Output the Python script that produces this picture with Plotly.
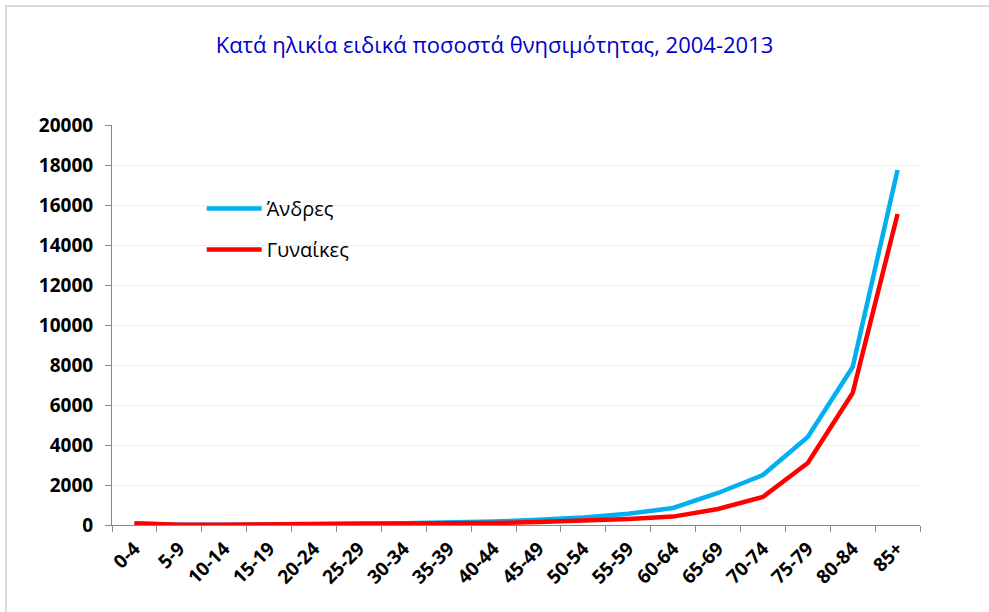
import plotly.graph_objects as go

categories = ["0-4", "5-9", "10-14", "15-19", "20-24", "25-29", "30-34", "35-39", "40-44",
              "45-49", "50-54", "55-59", "60-64", "65-69", "70-74", "75-79", "80-84", "85+"]
men = [85, 12, 14, 50, 65, 70, 85, 115, 170, 260, 370, 560, 850, 1600, 2500, 4400, 7900, 17750]
women = [75, 10, 10, 22, 27, 30, 42, 62, 100, 150, 210, 300, 420, 800, 1400, 3100, 6600, 15550]
title_text = "Κατά ηλικία ειδικά ποσοστά θνησιμότητας, 2004-2013"
name_men = "Άνδρες"
name_women = "Γυναίκες"

FONT = "Open Sans"

fig = go.Figure()
fig.add_trace(go.Scatter(x=categories, y=men, mode="lines", name=name_men, legendgroup="m",
                         line=dict(color="#00B0F0", width=4.5)))
fig.add_trace(go.Scatter(x=categories, y=women, mode="lines", name=name_women, legendgroup="f",
                         line=dict(color="#FF0000", width=4.5)))

fig.update_layout(
    width=989, height=612,
    margin=dict(l=112, r=69, t=125, b=87),
    paper_bgcolor="white", plot_bgcolor="white",
    font=dict(family=FONT, color="black"),
    title=dict(text=title_text, x=0.5, xanchor="center", y=1 - 45 / 612, yanchor="middle",
               font=dict(family=FONT, size=22, color="#0000CC")),
    showlegend=True,
    legend=dict(x=0.111, y=0.84, xanchor="left", yanchor="top", bgcolor="rgba(0,0,0,0)",
                font=dict(family=FONT, size=20, color="black"), itemwidth=55,
                tracegroupgap=12),
    xaxis=dict(type="category", range=[-0.5, 17.5], tickson="boundaries", ticks="outside",
               ticklen=6, tickcolor="#888888", showline=True, linecolor="#888888", linewidth=1,
               showgrid=False, tickangle=-45, automargin=False, ticklabelstandoff=4,
               tickfont=dict(family=FONT, size=19, color="black", weight="bold"),
               fixedrange=True),
    yaxis=dict(range=[0, 20000], dtick=2000, tickformat="d", ticks="outside", ticklen=6,
               tickcolor="#888888", showline=True, linecolor="#888888", linewidth=1,
               showgrid=True, gridcolor="#EEEEEE", zeroline=False, automargin=False,
               ticklabelstandoff=8,
               tickfont=dict(family=FONT, size=19, color="black", weight="bold"),
               fixedrange=True),
    shapes=[dict(type="rect", xref="paper", yref="paper",
                 x0=(6 - 112) / 808, x1=(1000 - 112) / 808,
                 y0=-0.5, y1=(525 - 6) / 400,
                 line=dict(color="#D9D9D9", width=2), fillcolor="rgba(0,0,0,0)", layer="below")],
)

fig.write_html("out.html", config={"displayModeBar": False},
               post_script="document.body.style.margin='0px';document.body.style.padding='0px';")
